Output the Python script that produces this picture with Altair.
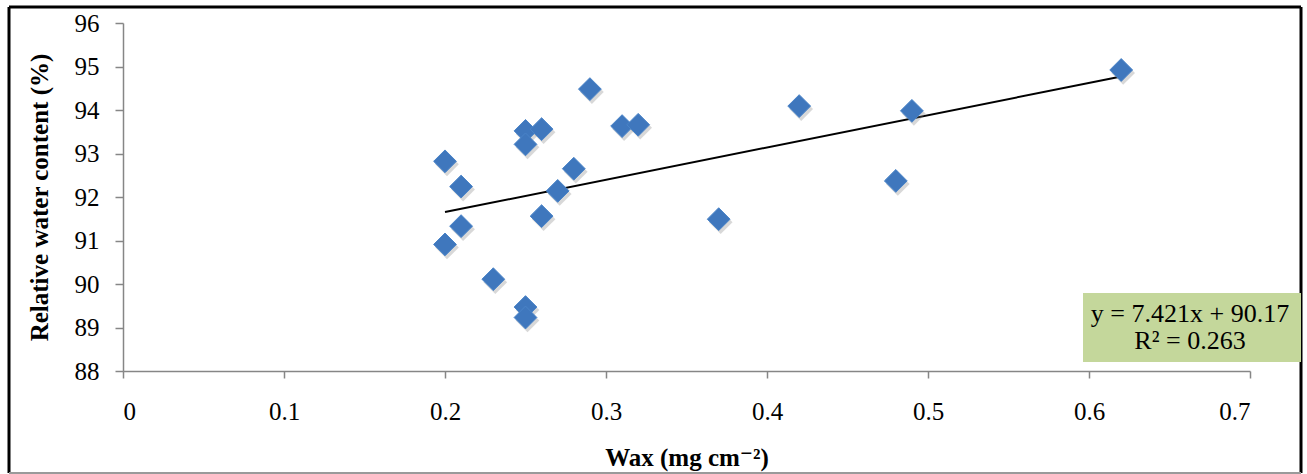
import altair as alt
import pandas as pd

# Leaf wax load vs. relative water content
wax = [0.20, 0.20, 0.21, 0.21, 0.23, 0.25, 0.25, 0.25, 0.25, 0.26, 0.26,
       0.27, 0.28, 0.29, 0.31, 0.32, 0.37, 0.42, 0.48, 0.49, 0.62]
rwc = [92.82, 90.91, 92.24, 91.33, 90.11, 93.52, 93.21, 89.47, 89.23, 93.56, 91.56,
       92.14, 92.65, 94.48, 93.63, 93.66, 91.49, 94.09, 92.37, 93.98, 94.92]

# Linear trendline as reported on the chart
slope = 7.421
intercept = 90.17
r_squared = 0.263

x_ticks = [0, 0.1, 0.2, 0.3, 0.4, 0.5, 0.6, 0.7]
y_ticks = [88, 89, 90, 91, 92, 93, 94, 95, 96]

FONT = "'Liberation Serif', 'Times New Roman', 'DejaVu Serif', serif"
AXIS_GREY = "#868686"
W, H = 1127, 348

points = pd.DataFrame({"wax": wax, "rwc": rwc})
trend = pd.DataFrame({"wax": [min(wax), max(wax)]})
trend["rwc"] = slope * trend["wax"] + intercept

x_scale = alt.Scale(domain=[0, 0.7], nice=False, zero=False)
y_scale = alt.Scale(domain=[88, 96], nice=False, zero=False)

x_enc = alt.X(
    "wax:Q", scale=x_scale,
    axis=alt.Axis(
        title="Wax (mg cm⁻²)", values=x_ticks, format="~g", grid=False,
        domainColor=AXIS_GREY, domainWidth=1.5, tickColor=AXIS_GREY, tickWidth=1.5,
        tickSize=7, labelPadding=21, labelFontSize=25, labelFont=FONT, labelColor="black",
        titleFont=FONT, titleFontSize=25, titleFontWeight="bold", titleColor="black",
        titleY=86, titleBaseline="middle",
    ),
)
y_enc = alt.Y(
    "rwc:Q", scale=y_scale,
    axis=alt.Axis(
        title="Relative water content (%)", values=y_ticks, grid=False,
        domainColor=AXIS_GREY, domainWidth=1.5, tickColor=AXIS_GREY, tickWidth=1.5,
        tickSize=8, labelPadding=16, labelFontSize=25, labelFont=FONT, labelColor="black",
        titleFont=FONT, titleFontSize=25, titleFontWeight="bold", titleColor="black",
        titleX=-84, titleY=H / 2, titleAngle=-90, titleBaseline="middle",
    ),
)

shadow = alt.Chart(points).mark_point(
    shape="diamond", filled=True, size=560, color="#7f7f7f", opacity=0.3,
    xOffset=2, yOffset=3,
).encode(x=x_enc, y=y_enc)

dots = alt.Chart(points).mark_point(
    shape="diamond", filled=True, size=520, color="#3f77bd", opacity=1,
    stroke="#4a84c8", strokeWidth=1,
).encode(x=x_enc, y=y_enc)

line = alt.Chart(trend).mark_line(color="black", strokeWidth=2).encode(x=x_enc, y=y_enc)

# Equation label box in the lower right
box = alt.Chart(pd.DataFrame({"k": [0]})).mark_rect(color="#c4d79b").encode(
    x=alt.value(960), x2=alt.value(1178), y=alt.value(270), y2=alt.value(339)
)
eq_lines = pd.DataFrame({
    "label": [f"y = {slope}x + {intercept}", f"R² = {r_squared}"],
    "ypix": [291, 318],
})
eq_text = alt.Chart(eq_lines).mark_text(
    font=FONT, fontSize=26, color="black", align="center", baseline="middle"
).encode(x=alt.value(1067), y=alt.Y("ypix:Q", scale=None), text="label:N")

# Outer frame of the figure
frame_black = alt.Chart(pd.DataFrame({"k": [0]})).mark_rule(color="black", strokeWidth=3)
frame = alt.layer(
    frame_black.encode(x=alt.value(-114), x2=alt.value(-114), y=alt.value(-16), y2=alt.value(450)),
    frame_black.encode(x=alt.value(-114), x2=alt.value(1178), y=alt.value(-16), y2=alt.value(-16)),
    frame_black.encode(x=alt.value(1178), x2=alt.value(1178), y=alt.value(-16), y2=alt.value(450)),
    alt.Chart(pd.DataFrame({"k": [0]})).mark_rule(color="#9a9a9a", strokeWidth=2).encode(
        x=alt.value(-114), x2=alt.value(1178), y=alt.value(450), y2=alt.value(450)
    ),
)

chart = alt.layer(frame, box, eq_text, line, shadow, dots).properties(
    width=W, height=H,
    autosize=alt.AutoSizeParams(type="none"),
    padding={"left": 123, "top": 23, "right": 57, "bottom": 103},
    background="white",
).configure_view(stroke=None)

chart.save("out.html", embed_options={"renderer": "svg", "actions": False})
